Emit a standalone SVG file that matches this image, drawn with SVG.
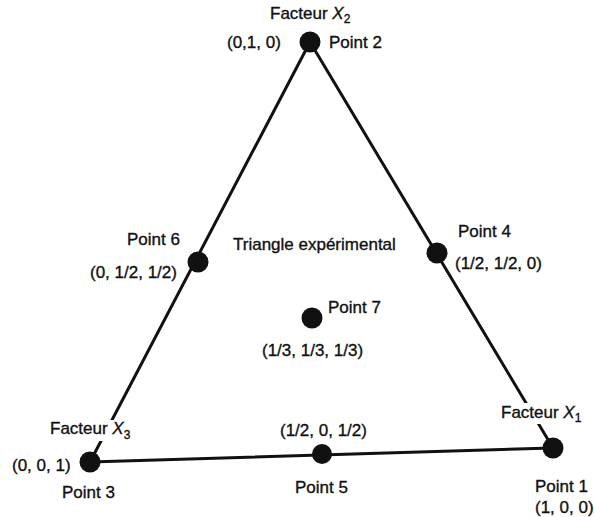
<svg xmlns="http://www.w3.org/2000/svg" width="594" height="517" viewBox="0 0 594 517">
  <style>
    text { font-family: "Liberation Sans", Arial, sans-serif; font-size: 17px; fill: #111; stroke: #111; stroke-width: 0.35; }
    .mask { fill: #fff; }
    .edge { stroke: #111; stroke-width: 3; fill: none; stroke-linecap: round; }
    .dot { fill: #111; }
    .var { font-style: italic; }
    .sub { font-size: 12px; }
  </style>
  <rect width="594" height="517" fill="#fff"/>

  <!-- triangle sides -->
  <g id="connectors">
    <line class="edge" x1="310" y1="42" x2="553" y2="448"/>
    <line class="edge" x1="553" y1="448" x2="90" y2="462"/>
    <line class="edge" x1="90" y1="462" x2="310" y2="42"/>
  </g>

  <g id="title">
    <text x="233" y="250">Triangle expérimental</text>
  </g>

  <g id="point2">
    <circle class="dot" cx="310" cy="42" r="10.5"/>
    <text x="270" y="19">Facteur <tspan class="var">X</tspan><tspan class="sub" dy="4">2</tspan></text>
    <text x="227" y="48">(0,1, 0)</text>
    <text x="329" y="48">Point 2</text>
  </g>

  <g id="point4">
    <circle class="dot" cx="437" cy="253" r="10.5"/>
    <text x="458" y="237">Point 4</text>
    <text x="455" y="269">(1/2, 1/2, 0)</text>
  </g>

  <g id="point6">
    <circle class="dot" cx="198" cy="262" r="10.5"/>
    <text x="127" y="245">Point 6</text>
    <text x="90" y="278">(0, 1/2, 1/2)</text>
  </g>

  <g id="point7">
    <circle class="dot" cx="312" cy="318" r="10.5"/>
    <text x="328" y="313">Point 7</text>
    <text x="262" y="356">(1/3, 1/3, 1/3)</text>
  </g>

  <g id="point5">
    <circle class="dot" cx="322" cy="454" r="10"/>
    <text x="280" y="436">(1/2, 0, 1/2)</text>
    <text x="295" y="493">Point 5</text>
  </g>

  <g id="point3">
    <circle class="dot" cx="90" cy="462" r="10.5"/>
    <rect class="mask" x="48" y="420" width="86" height="21"/>
    <text x="50" y="434">Facteur <tspan class="var">X</tspan><tspan class="sub" dy="5">3</tspan></text>
    <text x="12" y="471">(0, 0, 1)</text>
    <text x="62" y="498">Point 3</text>
  </g>

  <g id="point1">
    <circle class="dot" cx="553" cy="448" r="10.5"/>
    <rect class="mask" x="499" y="403" width="92" height="21"/>
    <text x="501" y="418">Facteur <tspan class="var">X</tspan><tspan class="sub" dy="4">1</tspan></text>
    <text x="535" y="492">Point 1</text>
    <text x="535" y="513">(1, 0, 0)</text>
  </g>
</svg>
